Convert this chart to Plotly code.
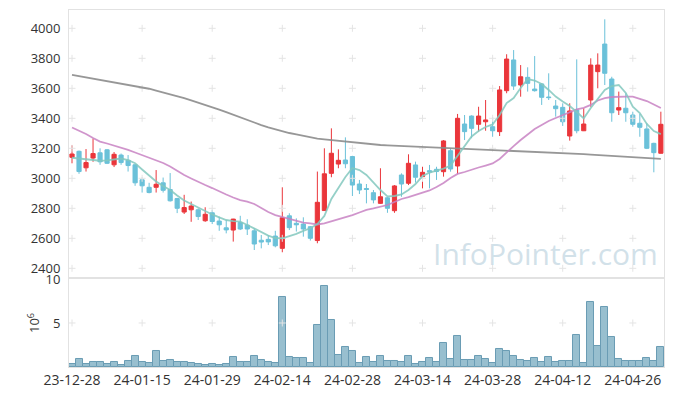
import plotly.graph_objects as go

dates = ["23-12-28","24-01-02","24-01-03","24-01-04","24-01-05","24-01-08","24-01-09","24-01-10","24-01-11","24-01-12",
         "24-01-15","24-01-16","24-01-17","24-01-18","24-01-19","24-01-22","24-01-23","24-01-24","24-01-25","24-01-26",
         "24-01-29","24-01-30","24-01-31","24-02-01","24-02-02","24-02-05","24-02-06","24-02-07","24-02-08","24-02-13",
         "24-02-14","24-02-15","24-02-16","24-02-19","24-02-20","24-02-21","24-02-22","24-02-23","24-02-26","24-02-27",
         "24-02-28","24-02-29","24-03-04","24-03-05","24-03-06","24-03-07","24-03-08","24-03-11","24-03-12","24-03-13",
         "24-03-14","24-03-15","24-03-18","24-03-19","24-03-20","24-03-21","24-03-22","24-03-25","24-03-26","24-03-27",
         "24-03-28","24-03-29","24-04-01","24-04-02","24-04-03","24-04-04","24-04-05","24-04-08","24-04-09","24-04-11",
         "24-04-12","24-04-15","24-04-16","24-04-17","24-04-18","24-04-19","24-04-22","24-04-23","24-04-24","24-04-25",
         "24-04-26","24-04-29","24-04-30","24-05-02","24-05-03"]

open_ = [3140,3180,3070,3135,3170,3190,3090,3155,3120,3090,
         2990,2940,2940,2970,2925,2865,2775,2790,2790,2717,
         2770,2715,2670,2655,2705,2688,2650,2587,2593,2615,
         2533,2750,2700,2695,2677,2585,2785,3033,3095,3122,
         3145,2962,2932,2904,2833,2870,2784,3022,2967,3089,
         3011,3051,3060,3044,3184,3082,3362,3415,3360,3377,
         3344,3311,3584,3789,3622,3673,3595,3629,3542,3482,
         3473,3282,3455,3317,3522,3711,3895,3662,3455,3467,
         3422,3367,3329,3233,3167]
high = [3220,3185,3195,3265,3200,3195,3175,3165,3155,3095,
        3005,2970,3055,3005,3035,2870,2890,2845,2800,2807,
        2790,2745,2722,2730,2750,2727,2667,2622,2622,2650,
        2940,2767,2733,2740,2682,3045,3200,3333,3193,3273,
        3150,2989,2962,2922,3067,2875,2955,3033,3160,3111,
        3077,3089,3077,3255,3200,3429,3422,3420,3477,3522,
        3407,3615,3827,3855,3755,3740,3815,3635,3700,3522,
        3500,3500,3793,3467,3800,3833,4060,3677,3578,3567,
        3444,3429,3367,3237,3444]
low = [3100,3030,3045,3110,3090,3095,3075,3090,3045,2950,
       2905,2900,2905,2905,2845,2768,2762,2710,2722,2710,
       2695,2650,2633,2578,2655,2622,2522,2533,2555,2540,
       2507,2655,2645,2611,2585,2567,2784,3007,3067,3067,
       2882,2895,2833,2833,2829,2770,2770,2877,2955,2971,
       2933,2933,2989,3011,3044,3029,3255,3267,3311,3317,
       3277,3282,3567,3589,3544,3578,3578,3489,3522,3411,
       3349,3251,3300,3315,3477,3600,3622,3377,3422,3377,
       3344,3277,3195,3040,3165]
close = [3162,3045,3105,3165,3110,3100,3160,3105,3085,2970,
         2950,2905,2960,2920,2850,2800,2805,2815,2745,2760,
         2712,2690,2656,2728,2662,2662,2562,2575,2576,2550,
         2737,2671,2690,2662,2600,2840,3030,3167,3120,3097,
         2955,2922,2926,2856,2877,2800,2949,2962,3100,3007,
         3040,3042,3045,3249,3062,3400,3311,3333,3415,3389,
         3317,3589,3795,3615,3677,3633,3584,3540,3538,3464,
         3377,3449,3317,3362,3755,3755,3700,3437,3471,3437,
         3360,3340,3200,3171,3360]

ma5 = [3137,3132,3125,3120,3117,3119,3125,3132,3122,3100,
       3059,3019,2979,2949,2922,2885,2852,2829,2805,2782,
       2759,2739,2722,2715,2711,2689,2665,2642,2618,2602,
       2600,2615,2629,2649,2667,2695,2749,2862,2935,3009,
       3069,3055,3022,2969,2922,2879,2882,2892,2922,2962,
       3015,3038,3052,3065,3085,3149,3215,3279,3315,3342,
       3359,3422,3502,3535,3602,3662,3652,3629,3589,3545,
       3512,3482,3442,3400,3469,3529,3589,3615,3622,3569,
       3477,3435,3362,3315,3295]
ma20 = [3339,3319,3295,3269,3245,3232,3219,3205,3189,3172,
        3155,3139,3119,3102,3079,3049,3022,2999,2975,2955,
        2935,2912,2892,2872,2855,2845,2829,2802,2775,2755,
        2742,2729,2715,2705,2699,2692,2699,2712,2725,2739,
        2755,2772,2789,2799,2809,2822,2842,2862,2875,2889,
        2902,2919,2942,2969,3002,3029,3042,3059,3072,3085,
        3099,3129,3175,3215,3255,3295,3329,3355,3382,3402,
        3422,3442,3459,3469,3489,3519,3535,3542,3545,3545,
        3545,3532,3515,3492,3469]
ma120 = [3689,3681,3673,3665,3657,3649,3641,3633,3625,3617,
         3609,3597,3585,3573,3561,3549,3534,3519,3505,3490,
         3475,3458,3441,3423,3406,3389,3372,3355,3339,3325,
         3312,3302,3293,3283,3274,3265,3260,3255,3249,3244,
         3239,3235,3231,3227,3222,3220,3218,3216,3214,3212,
         3211,3209,3207,3205,3204,3202,3200,3198,3196,3194,
         3192,3189,3187,3184,3181,3179,3177,3175,3173,3171,
         3169,3166,3163,3161,3158,3155,3152,3149,3145,3142,
         3139,3136,3135,3131,3129]

volume_m = [0.38,0.87,0.38,0.6,0.6,0.38,0.6,0.26,0.72,1.28,
            0.6,0.49,1.85,0.72,0.83,0.6,0.6,0.49,0.38,0.26,
            0.38,0.26,0.38,1.17,0.6,0.6,1.28,0.83,0.6,0.49,
            7.96,1.17,1.06,1.06,0.49,4.79,9.2,5.36,1.4,2.3,
            1.85,0.49,1.17,0.6,1.28,0.72,0.72,0.6,1.28,0.38,
            0.6,1.06,0.6,2.75,0.94,3.55,0.83,0.83,1.28,0.94,
            0.49,2.08,1.85,1.28,0.83,0.72,1.06,0.6,1.17,0.6,
            0.72,0.72,3.66,0.49,7.4,2.42,6.83,3.43,0.94,0.72,
            0.72,0.72,1.06,0.72,2.3]

tick_labels = ["23-12-28","24-01-15","24-01-29","24-02-14","24-02-28","24-03-14","24-03-28","24-04-12","24-04-26"]
price_ticks = [2400,2600,2800,3000,3200,3400,3600,3800,4000]
vol_ticks = [5, 10]

UP = "#ea363b"
DOWN = "#6bc1d9"
GRID = "#e4e4e4"
AX = "#e2e2e2"
FONT = "Open Sans"

fig = go.Figure()

# grid crosses
gx, gy = [], []
for t in tick_labels:
    for p in price_ticks:
        gx.append(t); gy.append(p)
fig.add_trace(go.Scatter(x=gx, y=gy, mode="markers", xaxis="x2", yaxis="y2",
                         marker=dict(symbol="cross-thin", size=5, line=dict(width=1, color=GRID)),
                         hoverinfo="skip"))
fig.add_trace(go.Scatter(x=tick_labels, y=[vol_ticks[0]] * len(tick_labels), mode="markers",
                         xaxis="x", yaxis="y",
                         marker=dict(symbol="cross-thin", size=5, line=dict(width=1, color=GRID)),
                         hoverinfo="skip"))

fig.add_trace(go.Candlestick(x=dates, open=open_, high=high, low=low, close=close,
                             xaxis="x2", yaxis="y2", whiskerwidth=0,
                             increasing=dict(line=dict(color=UP, width=1), fillcolor=UP),
                             decreasing=dict(line=dict(color=DOWN, width=1), fillcolor=DOWN)))

fig.add_trace(go.Scatter(x=dates, y=ma120, mode="lines", xaxis="x2", yaxis="y2",
                         line=dict(color="rgba(140,140,140,0.9)", width=1.8)))
fig.add_trace(go.Scatter(x=dates, y=ma20, mode="lines", xaxis="x2", yaxis="y2",
                         line=dict(color="rgba(200,130,195,0.85)", width=1.8)))
fig.add_trace(go.Scatter(x=dates, y=ma5, mode="lines", xaxis="x2", yaxis="y2",
                         line=dict(color="rgba(130,200,190,0.85)", width=1.8)))

fig.add_trace(go.Bar(x=dates, y=volume_m, xaxis="x", yaxis="y",
                     marker=dict(color="#98bfcf", line=dict(color="#6a9cb4", width=1))))

xr = [-0.43, 84.45]
common_x = dict(type="category", categoryorder="array", categoryarray=dates, range=xr,
                showgrid=False, zeroline=False, showline=True, mirror=True,
                linecolor=AX, linewidth=1, ticks="", automargin=False,
                rangeslider=dict(visible=False))

# the page body adds an 8px offset, so the figure is sized to fit the window
fig.update_layout(
    width=665, height=388,
    margin=dict(l=61, r=9, t=2, b=29, autoexpand=False),
    paper_bgcolor="white", plot_bgcolor="white",
    showlegend=False, hovermode=False, bargap=0, boxgap=0.15,
    font=dict(family=FONT, size=13, color="#333"),
    xaxis=dict(**common_x, domain=[0, 1], anchor="y", tickvals=tick_labels, ticktext=tick_labels,
               tickfont=dict(size=14, color="#333")),
    xaxis2=dict(**common_x, domain=[0, 1], anchor="y2", showticklabels=False),
    yaxis=dict(domain=[0, 0.2465], range=[0, 10], tickvals=vol_ticks, ticktext=[str(v) for v in vol_ticks],
               showgrid=False, zeroline=False, showline=True, mirror=True, linecolor=AX,
               ticks="", ticklabelstandoff=5, automargin=False, tickfont=dict(size=13, color="#333"),
               title=dict(text="10<sup>6</sup>", standoff=2, font=dict(size=13, color="#333"))),
    yaxis2=dict(domain=[0.2521, 1], range=[2342, 4122], tickvals=price_ticks,
                showgrid=False, zeroline=False, showline=True, mirror=True, linecolor=AX,
                ticks="", ticklabelstandoff=5, automargin=False, tickfont=dict(size=13, color="#333")),
    annotations=[dict(text="InfoPointer.com", xref="paper", yref="paper", x=0.993, y=0.317,
                      xanchor="right", yanchor="middle", showarrow=False,
                      font=dict(family=FONT, size=30, color="rgba(165,195,212,0.5)"))],
)

fig.write_html("out.html")
